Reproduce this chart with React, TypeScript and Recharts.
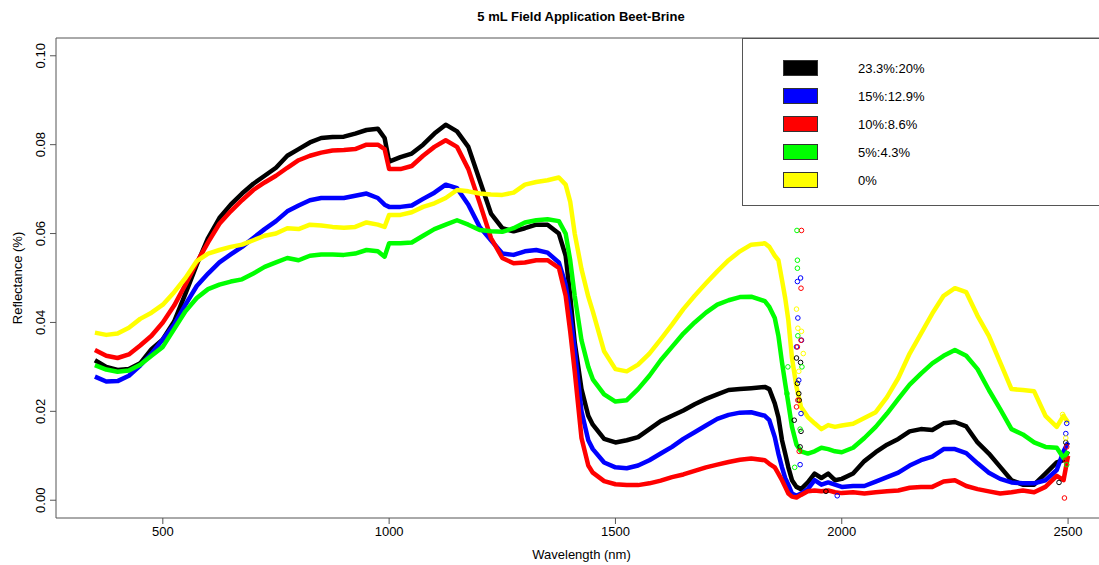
import React from "react";
import {
  ComposedChart,
  Line,
  Scatter,
  XAxis,
  YAxis,
  Legend,
  ReferenceArea,
} from "recharts";

// wavelength (nm) sample positions, shared by all five spectra
const wavelengths = [
  350, 375, 400, 425, 450, 475, 500, 525, 550, 575,
  600, 625, 650, 675, 700, 725, 750, 775, 800, 825,
  850, 875, 900, 925, 950, 975, 990, 1000, 1025, 1050,
  1075, 1100, 1125, 1150, 1175, 1200, 1225, 1250, 1275, 1300,
  1325, 1350, 1375, 1390, 1400, 1410, 1425, 1440, 1450, 1475,
  1500, 1525, 1550, 1575, 1600, 1625, 1650, 1675, 1700, 1725,
  1750, 1775, 1800, 1830, 1840, 1852, 1860, 1868, 1875, 1882,
  1890, 1900, 1910, 1925, 1940, 1955, 1970, 1985, 2000, 2025,
  2050, 2075, 2100, 2125, 2150, 2175, 2200, 2225, 2250, 2275,
  2300, 2325, 2350, 2375, 2400, 2425, 2450, 2475, 2490, 2500,
];

const black = [
  0.0315, 0.03, 0.0293, 0.0295, 0.0308, 0.034, 0.0362, 0.0402, 0.0465, 0.053,
  0.059, 0.0635, 0.0665, 0.069, 0.0712, 0.073, 0.0748, 0.0775, 0.079, 0.0805,
  0.0815, 0.0817, 0.0818, 0.0825, 0.0833, 0.0836, 0.0815, 0.0762, 0.0772, 0.078,
  0.08, 0.0825, 0.0845, 0.083, 0.0795, 0.072, 0.0645, 0.0612, 0.0605, 0.0612,
  0.062, 0.062, 0.06, 0.055, 0.046, 0.0355, 0.025, 0.019, 0.017, 0.0138,
  0.013, 0.0135, 0.0142, 0.016, 0.0178, 0.019, 0.0202, 0.0216, 0.0228, 0.0238,
  0.0248, 0.025, 0.0252, 0.0255, 0.025, 0.0218, 0.0187, 0.0135, 0.0105, 0.0074,
  0.0045, 0.003, 0.0025, 0.004, 0.006, 0.005, 0.006, 0.0045, 0.0048, 0.006,
  0.0088, 0.0108, 0.0125, 0.0138, 0.0155, 0.016, 0.0158, 0.0173, 0.0176, 0.0166,
  0.013, 0.0105, 0.0075, 0.0045, 0.0035, 0.0035, 0.006, 0.0085, 0.009, 0.011,
];

const blue = [
  0.0278, 0.0267, 0.0268, 0.028, 0.0303, 0.033, 0.0362, 0.0395, 0.044, 0.0482,
  0.051, 0.0535, 0.0553, 0.057, 0.059, 0.061, 0.0628, 0.065, 0.0663, 0.0675,
  0.068, 0.068, 0.068, 0.0685, 0.069, 0.068, 0.0665, 0.066, 0.066, 0.0663,
  0.0678, 0.0692, 0.071, 0.0702, 0.0665, 0.0615, 0.0585, 0.0555, 0.0552, 0.056,
  0.0563, 0.0557, 0.0535, 0.0485, 0.042, 0.034, 0.02, 0.0135, 0.0115, 0.0085,
  0.0074, 0.0072, 0.0078, 0.009, 0.0105, 0.012, 0.0138, 0.0153, 0.0168, 0.0183,
  0.0192, 0.0197, 0.0198, 0.019, 0.018, 0.0142, 0.0105, 0.0074, 0.005, 0.0035,
  0.0015, 0.001, 0.0015, 0.0025, 0.0045, 0.0035, 0.004, 0.0035, 0.003, 0.0032,
  0.0032, 0.0042, 0.0052, 0.0062, 0.0078, 0.009, 0.0098, 0.0115, 0.0115, 0.0106,
  0.0083, 0.0062, 0.0048, 0.004, 0.0038, 0.0038, 0.0045, 0.0068, 0.011, 0.013,
];

const red = [
  0.0338, 0.0325, 0.032, 0.0328, 0.0348, 0.037, 0.04, 0.0438, 0.0485, 0.0535,
  0.058, 0.0622, 0.065, 0.0675, 0.0698, 0.0715, 0.073, 0.0748, 0.0765, 0.0775,
  0.0782, 0.0787, 0.0788, 0.079, 0.08, 0.08, 0.079, 0.0745, 0.0745, 0.0752,
  0.0775, 0.0795, 0.081, 0.0795, 0.0745, 0.0669, 0.059, 0.0545, 0.0533, 0.0535,
  0.054, 0.054, 0.0523, 0.046, 0.038, 0.029, 0.014, 0.0078, 0.0062, 0.0043,
  0.0036, 0.0034, 0.0034, 0.0038, 0.0044, 0.0052, 0.0058, 0.0066, 0.0074, 0.008,
  0.0086, 0.0091, 0.0094, 0.009, 0.0082, 0.0074, 0.006, 0.0045, 0.003, 0.0015,
  0.0008, 0.0006, 0.0012, 0.002, 0.0022, 0.002, 0.0022, 0.0018, 0.0016, 0.0018,
  0.0015, 0.0018, 0.002, 0.0022, 0.0028, 0.003, 0.003, 0.0042, 0.0045, 0.0032,
  0.0025, 0.002, 0.0015, 0.0018, 0.0022, 0.0018, 0.003, 0.0055, 0.0045, 0.01,
];

const green = [
  0.0304, 0.0294, 0.0289, 0.0292, 0.0305, 0.0325, 0.0345, 0.0385, 0.0425, 0.0455,
  0.0475, 0.0485, 0.0492, 0.0497, 0.051, 0.0525, 0.0535, 0.0545, 0.054, 0.055,
  0.0553, 0.0553, 0.0552, 0.0555, 0.0563, 0.056, 0.0548, 0.0578, 0.0578, 0.058,
  0.0595, 0.061, 0.062, 0.063, 0.062, 0.0608, 0.0605, 0.0604, 0.0612, 0.0625,
  0.063, 0.0632, 0.0628, 0.06, 0.054, 0.046, 0.036, 0.03, 0.0272, 0.0238,
  0.0222, 0.0225, 0.025, 0.028, 0.0315, 0.0345, 0.0375, 0.04, 0.0422, 0.044,
  0.045, 0.0457, 0.0458, 0.0448, 0.0435, 0.041, 0.037, 0.031, 0.0263, 0.0218,
  0.0165, 0.0125, 0.011, 0.0105, 0.011, 0.0118, 0.0115, 0.011, 0.0108, 0.0118,
  0.014, 0.0165, 0.0195, 0.0228, 0.026, 0.0285, 0.0308, 0.0325, 0.0338, 0.0325,
  0.0295, 0.0248, 0.0205, 0.016, 0.0148, 0.013, 0.012, 0.0118, 0.0095, 0.011,
];

const yellow = [
  0.0377, 0.0372, 0.0375, 0.0388, 0.0408, 0.0422, 0.044, 0.0468, 0.05, 0.0538,
  0.0555, 0.0563, 0.057, 0.0575, 0.0585, 0.0595, 0.06, 0.0612, 0.061, 0.062,
  0.0618, 0.0615, 0.0613, 0.0615, 0.0625, 0.062, 0.0615, 0.0642, 0.0642, 0.0648,
  0.066, 0.0668, 0.068, 0.0698, 0.0695, 0.069, 0.0688, 0.0687, 0.0692, 0.071,
  0.0716, 0.072, 0.0726, 0.071, 0.0672, 0.06, 0.052, 0.0458, 0.0425, 0.0335,
  0.0295, 0.029, 0.0305, 0.033, 0.0362, 0.0395, 0.043, 0.046, 0.0488, 0.0515,
  0.054, 0.056, 0.0575, 0.0578, 0.057, 0.055, 0.054, 0.0495, 0.0455, 0.0405,
  0.032, 0.0255, 0.021, 0.0187, 0.0173, 0.016, 0.0169, 0.0165, 0.0168, 0.0172,
  0.0185, 0.0198, 0.0232, 0.0275, 0.033, 0.0375, 0.042, 0.046, 0.0477, 0.0468,
  0.0415, 0.037, 0.031, 0.025, 0.0248, 0.0245, 0.019, 0.0165, 0.019, 0.0175,
];

// stray readings in the noisy water-band region, [wavelength, reflectance]
const blackStray = [[1900, 0.032], [1902, 0.0263], [1905, 0.024], [1906, 0.0225], [1909, 0.031], [1895, 0.018], [1910, 0.0155], [1908, 0.012], [1965, 0.002], [2480, 0.004], [2495, 0.013]];
const blueStray = [[1902, 0.0492], [1909, 0.05], [1903, 0.041], [1911, 0.036], [1900, 0.0345], [1905, 0.027], [1910, 0.0195], [1908, 0.008], [1990, 0.001], [2497, 0.0173], [2495, 0.015]];
const redStray = [[1911, 0.0607], [1910, 0.0477], [1910, 0.036], [1902, 0.0345], [1903, 0.0225], [1900, 0.021], [1906, 0.011], [2497, 0.012], [2495, 0.009], [2492, 0.0005]];
const greenStray = [[1901, 0.0607], [1902, 0.054], [1902, 0.0522], [1903, 0.037], [1881, 0.03], [1879, 0.024], [1896, 0.0074], [1908, 0.016], [1912, 0.03], [2497, 0.008]];
const yellowStray = [[1900, 0.043], [1903, 0.0387], [1911, 0.038], [1905, 0.029], [1915, 0.033], [2488, 0.0193], [2495, 0.014]];

const seriesNames = ["23.3%:20%", "15%:12.9%", "10%:8.6%", "5%:4.3%", "0%"];
const seriesKeys = ["black", "blue", "red", "green", "yellow"];
const seriesColors = ["#000000", "#0000ff", "#ff0000", "#00ff00", "#ffff00"];
const seriesValues = [black, blue, red, green, yellow];
const strayValues = [blackStray, blueStray, redStray, greenStray, yellowStray];

const xTicks = [500, 1000, 1500, 2000, 2500];
const yTicks = [0, 0.02, 0.04, 0.06, 0.08, 0.1];

const FONT = "'Liberation Sans', Arial, sans-serif";

const data = wavelengths.map((wl, i) => {
  const row: Record<string, number> = { wl };
  seriesKeys.forEach((k, j) => {
    row[k] = seriesValues[j][i];
  });
  return row;
});

const strayData = strayValues.map((pts) => pts.map(([wl, v]) => ({ wl, v })));

const YTick = ({ x, y, payload }: any) => {
  const tx = x - 3;
  return (
    <text
      x={tx}
      y={y}
      transform={`rotate(-90 ${tx} ${y})`}
      textAnchor="middle"
      fontSize={13}
      fontFamily={FONT}
      fill="#000"
    >
      {Number(payload.value).toFixed(2)}
    </text>
  );
};

// legend keeps the plotting order (black, blue, red, green, yellow)
const LegendBox = () => (
  <div
    style={{
      width: 400,
      height: 168,
      border: "1px solid #555",
      boxSizing: "border-box",
      position: "relative",
      fontFamily: FONT,
      fontSize: 13,
      background: "#fff",
    }}
  >
    {seriesNames.map((name, i) => (
      <div
        key={name}
        style={{ position: "absolute", top: 21 + i * 28, left: 40, height: 16, display: "flex", alignItems: "center" }}
      >
        <div style={{ width: 33, height: 14, background: seriesColors[i], border: "1px solid #333" }} />
        <span style={{ marginLeft: 40, color: "#000" }}>{name}</span>
      </div>
    ))}
  </div>
);

const App = () => {
  return (
    <div style={{ width: 1099, height: 565, overflow: "hidden", position: "relative", background: "#fff" }}>
      <style>{`body{margin:0}`}</style>
      <div
        style={{
          position: "absolute",
          top: 9,
          left: 381,
          width: 400,
          textAlign: "center",
          fontFamily: FONT,
          fontWeight: "bold",
          fontSize: 13,
          zIndex: 2,
        }}
      >
        5 mL Field Application Beet-Brine
      </div>
      <ComposedChart
        width={1110}
        height={565}
        data={data}
        margin={{ top: 38, right: 3, bottom: 0, left: 0 }}
      >
        <XAxis
          dataKey="wl"
          type="number"
          domain={[264, 2586]}
          ticks={xTicks}
          allowDataOverflow
          tickSize={6}
          tickMargin={3}
          height={47}
          axisLine={false}
          tickLine={{ stroke: "#555" }}
          tick={{ fontSize: 13, fill: "#000", fontFamily: FONT }}
          label={{
            value: "Wavelength (nm)",
            position: "insideBottom",
            offset: 6,
            style: { fontSize: 13, fill: "#000", fontFamily: FONT },
          }}
        />
        <YAxis
          type="number"
          domain={[-0.004, 0.104]}
          ticks={yTicks}
          allowDataOverflow
          width={56}
          tickSize={6}
          tickMargin={2}
          axisLine={false}
          tickLine={{ stroke: "#555" }}
          tick={<YTick />}
          label={{
            value: "Reflectance (%)",
            angle: -90,
            position: "insideLeft",
            offset: 17,
            style: { fontSize: 13, fill: "#000", fontFamily: FONT, textAnchor: "middle" },
          }}
        />
        <ReferenceArea
          x1={264}
          x2={2586}
          y1={-0.004}
          y2={0.104}
          fill="none"
          stroke="#555"
          strokeWidth={1}
        />
        {seriesKeys.map((k, j) => (
          <Line
            key={k}
            dataKey={k}
            name={seriesNames[j]}
            type="linear"
            stroke={seriesColors[j]}
            strokeWidth={4.5}
            strokeLinejoin="round"
            dot={false}
            activeDot={false}
            isAnimationActive={false}
          />
        ))}
        {strayData.map((pts, j) => (
          <Scatter
            key={`stray-${seriesKeys[j]}`}
            data={pts}
            dataKey="v"
            legendType="none"
            isAnimationActive={false}
            shape={(p: any) => (
              <circle cx={p.cx} cy={p.cy} r={2.3} fill="none" stroke={seriesColors[j]} strokeWidth={1} />
            )}
          />
        ))}
        <Legend
          layout="vertical"
          align="center"
          verticalAlign="middle"
          wrapperStyle={{ top: 38, left: 742, width: 400, height: 168 }}
          content={<LegendBox />}
        />
      </ComposedChart>
    </div>
  );
};

export default App;
